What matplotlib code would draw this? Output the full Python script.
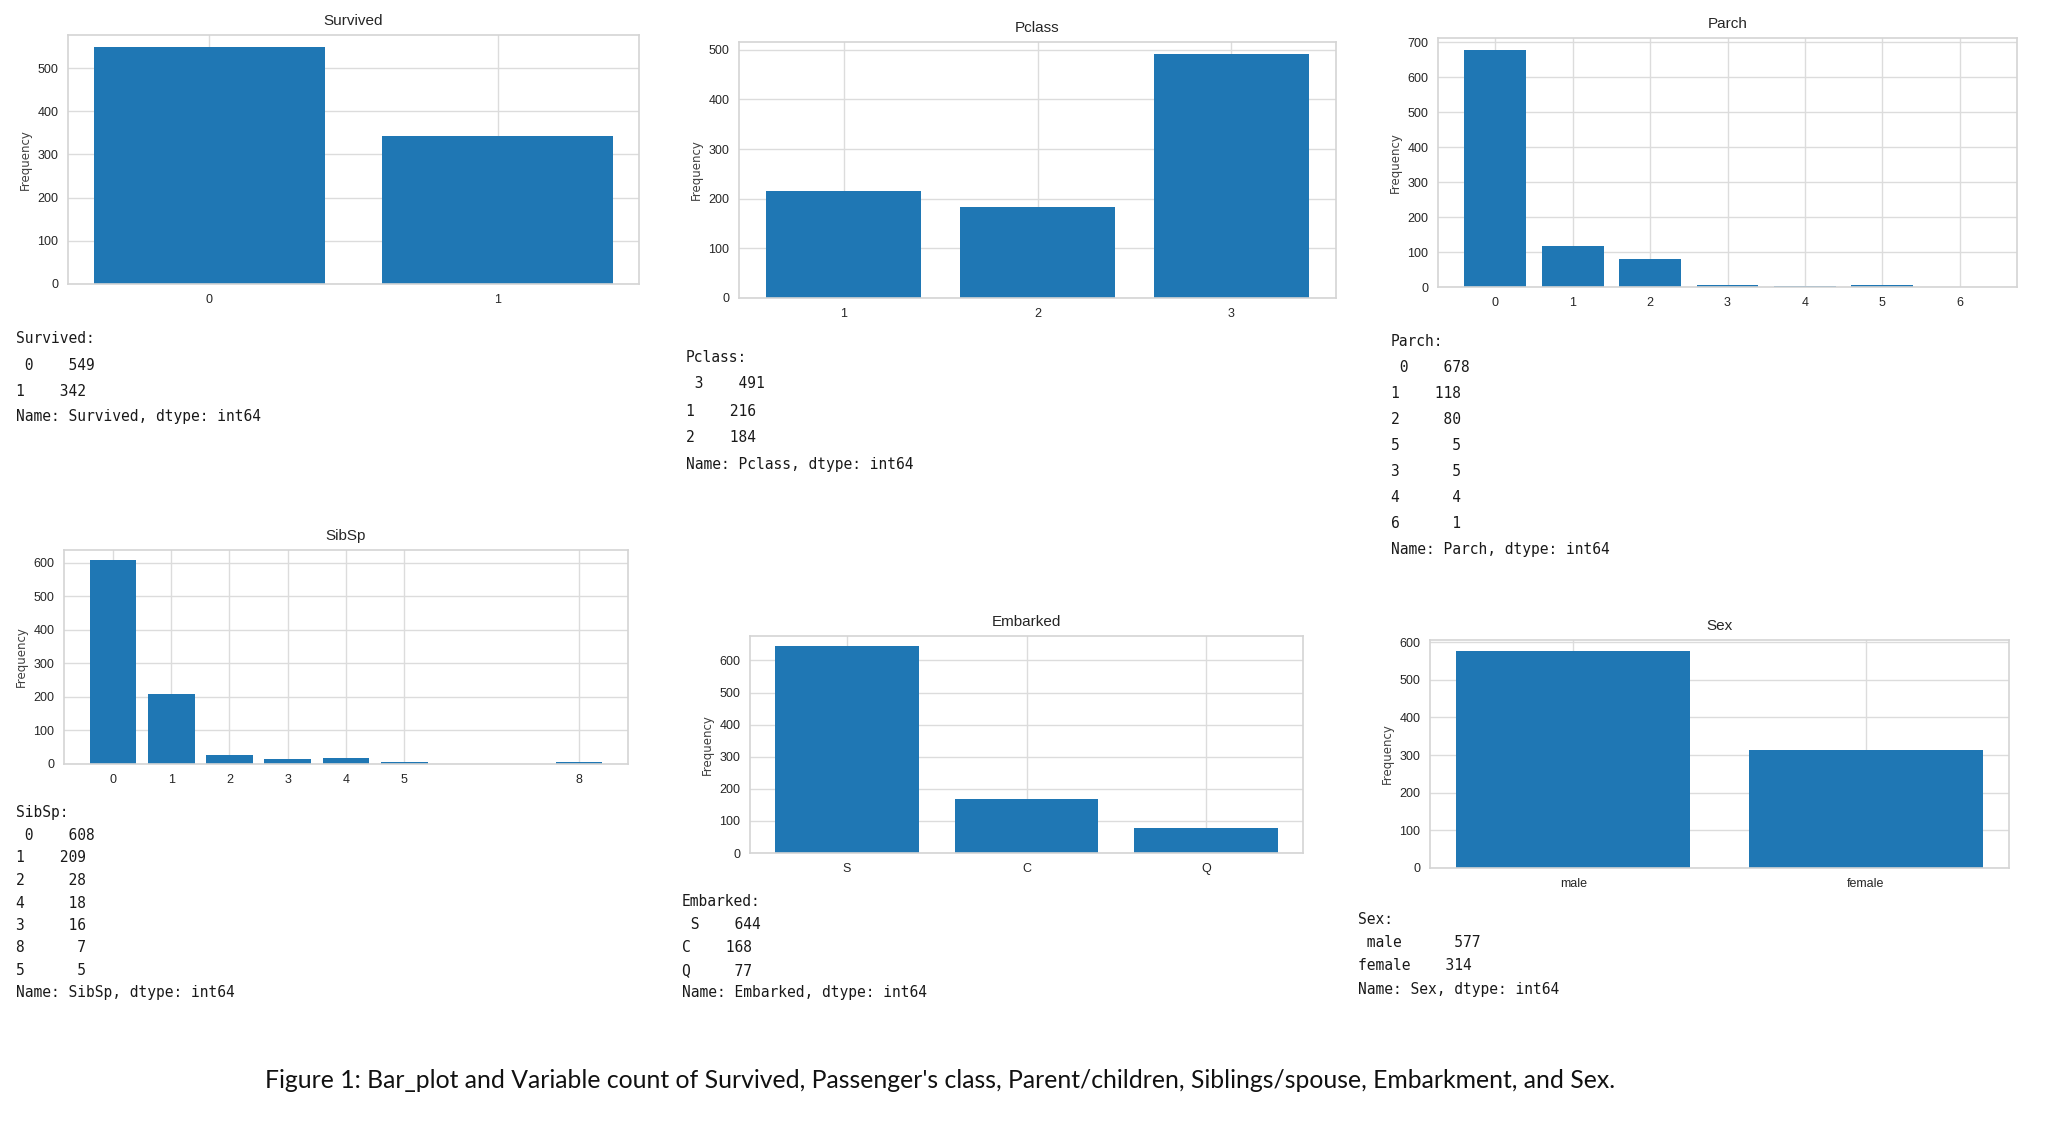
#importing libraries
import pandas as pd
import numpy as np
import matplotlib
matplotlib.use("Agg")
import matplotlib.pyplot as plt

# value counts (in printed order)
survived_idx = [0, 1]
survived_cnt = [549, 342]
pclass_idx = [3, 1, 2]
pclass_cnt = [491, 216, 184]
parch_idx = [0, 1, 2, 5, 3, 4, 6]
parch_cnt = [678, 118, 80, 5, 5, 4, 1]
sibsp_idx = [0, 1, 2, 4, 3, 8, 5]
sibsp_cnt = [608, 209, 28, 18, 16, 7, 5]
embarked_idx = ["S", "C", "Q"]
embarked_cnt = [644, 168, 77]
sex_idx = ["male", "female"]
sex_cnt = [577, 314]

caption = ("Figure 1: Bar_plot and Variable count of Survived, Passenger's class, "
           "Parent/children, Siblings/spouse, Embarkment, and Sex.")

W, H = 2052, 1140
fig = plt.figure(figsize=(W / 100, H / 100), dpi=100)
fig.patch.set_facecolor("white")

narrow = ["Liberation Sans Narrow", "Liberation Sans", "DejaVu Sans"]
mono = ["DejaVu Sans Mono"]


def px(left, top, right, bottom):
    return [left / W, 1 - bottom / H, (right - left) / W, (bottom - top) / H]


def bar_panel(rect, name, idx, cnt, numeric):
    ax = fig.add_axes(rect)
    s = pd.Series(cnt, index=idx, name=name)
    if numeric:
        s = s.sort_index()
        ax.bar(s.index, s.values, width=0.8, color="#1f77b4", zorder=2)
        ax.set_xticks(s.index)
    else:
        ax.bar([str(i) for i in s.index], s.values, width=0.8, color="#1f77b4", zorder=2)
    ax.set_title(name, fontsize=11, family=narrow, color="#262626", pad=7)
    ax.set_ylabel("Frequency", fontsize=8.5, color="#404040", labelpad=4)
    ax.grid(True, color="#dcdcdc", linewidth=1.0)
    ax.set_axisbelow(True)
    for sp in ax.spines.values():
        sp.set_color("#d4d4d4")
        sp.set_linewidth(1.2)
    ax.tick_params(length=0, labelsize=9, colors="#262626", pad=7)
    for lab in ax.get_xticklabels() + ax.get_yticklabels():
        lab.set_family(narrow)
    return ax


def count_text(x, y, step, name, idx, cnt):
    s = pd.Series(cnt, index=idx, name=name)
    lines = (name + ":\n " + repr(s)).split("\n")
    for i, line in enumerate(lines):
        fig.text(x / W, 1 - (y + i * step) / H, line, family=mono, fontsize=10.5,
                 color="#1a1a1a", ha="left", va="center")


bar_panel(px(68, 35, 639, 284), "Survived", survived_idx, survived_cnt, False)
count_text(16, 339, 26, "Survived", survived_idx, survived_cnt)

bar_panel(px(739, 42, 1336, 298), "Pclass", pclass_idx, pclass_cnt, True)
count_text(686, 357, 27, "Pclass", pclass_idx, pclass_cnt)

bar_panel(px(1438, 38, 2017, 287), "Parch", parch_idx, parch_cnt, True)
count_text(1391, 342, 26, "Parch", parch_idx, parch_cnt)

bar_panel(px(64, 550, 628, 764), "SibSp", sibsp_idx, sibsp_cnt, True)
count_text(16, 813, 22.5, "SibSp", sibsp_idx, sibsp_cnt)

bar_panel(px(750, 636, 1303, 853), "Embarked", embarked_idx, embarked_cnt, False)
count_text(682, 902, 22.7, "Embarked", embarked_idx, embarked_cnt)

bar_panel(px(1430, 640, 2009, 868), "Sex", sex_idx, sex_cnt, False)
count_text(1358, 919, 23.5, "Sex", sex_idx, sex_cnt)

fig.text(940 / W, 1 - 1081 / H, caption, family=["Lato", "DejaVu Sans"],
         fontsize=17.8, color="#111111", ha="center", va="center")

plt.savefig("out.png", dpi=100)
